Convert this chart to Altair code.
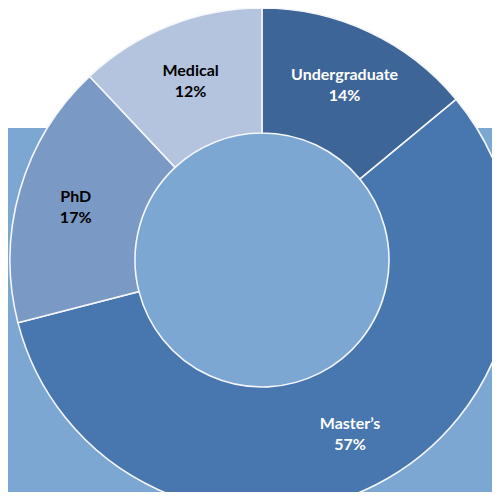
import altair as alt
import pandas as pd

categories = ["Undergraduate", "Master\u2019s", "PhD", "Medical"]
percents = [14, 57, 17, 12]
order = [1, 2, 3, 4]

slice_colors = ["#3E6597", "#4876AE", "#7B99C5", "#B4C4DE"]
label_colors = ["#FFFFFF", "#FFFFFF", "#000000", "#000000"]
bg_color = "#7BA7D2"

df = pd.DataFrame({"category": categories, "pct": percents, "ord": order})
df["label"] = df["category"] + "\n" + df["pct"].astype(str) + "%"

W, H = 484, 484
CX, CY = 254, 252
R_OUT, R_IN = 252, 127

bg = alt.Chart(pd.DataFrame({"a": [0]})).mark_rect(color=bg_color).encode(
    x=alt.value(-10), x2=alt.value(W + 10), y=alt.value(120), y2=alt.value(H + 10)
)

base = alt.Chart(df).encode(
    theta=alt.Theta("pct:Q", stack=True),
    order=alt.Order("ord:Q"),
)

arcs = base.mark_arc(
    x=CX, y=CY, radius=R_OUT, radius2=R_IN, stroke="#F4F6FA", strokeWidth=1.6
).encode(
    color=alt.Color("category:N", scale=alt.Scale(domain=categories, range=slice_colors), legend=None)
)

labels = base.mark_text(
    x=CX, y=CY, radius=194, dy=-9, font="Lato", fontSize=16, fontWeight="bold",
    lineBreak="\n", lineHeight=21, align="center", baseline="middle"
).encode(
    text="label:N",
    color=alt.Color("category:N", scale=alt.Scale(domain=categories, range=label_colors), legend=None),
)

chart = alt.layer(bg, arcs, labels).resolve_scale(color="independent").properties(
    width=W, height=H, autosize=alt.AutoSizeParams(type="none"), padding=0
).configure_view(stroke=None)

chart.save("out.html", embed_options={"renderer": "svg", "actions": False})
